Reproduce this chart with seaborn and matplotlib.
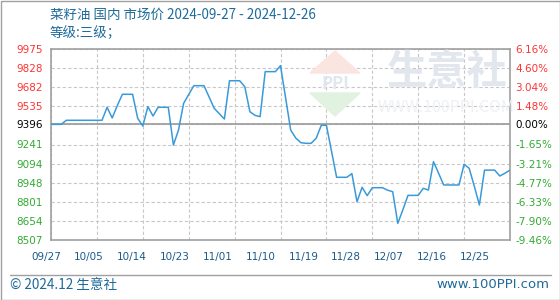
import numpy as np
import pandas as pd
import matplotlib
matplotlib.use("Agg")
import matplotlib.pyplot as plt
import matplotlib.transforms as mtransforms
from matplotlib.patches import Polygon
import seaborn as sns

sns.set_theme(style="white")
plt.rcParams['font.family'] = ['Noto Sans CJK SC', 'DejaVu Sans']

title = "菜籽油 国内 市场价 2024-09-27 - 2024-12-26"
subtitle = "等级:三级；"
base_price = 9396
y_ticks = [9975, 9828, 9682, 9535, 9396, 9241, 9094, 8948, 8801, 8654, 8507]
x_labels = ["09/27", "10/05", "10/14", "10/23", "11/01", "11/10",
            "11/19", "11/28", "12/07", "12/16", "12/25"]
prices = [9396, 9396, 9396, 9427, 9427, 9427, 9427, 9427, 9427, 9427, 9427,
          9527, 9445, 9540, 9627, 9627, 9627, 9442, 9383, 9532, 9460,
          9527, 9527, 9527, 9237, 9352, 9557, 9625, 9693, 9693, 9693,
          9606, 9519, 9478, 9437, 9731, 9731, 9731, 9685, 9493, 9465,
          9455, 9801, 9801, 9801, 9847, 9600, 9352, 9290, 9255, 9250,
          9250, 9289, 9389, 9389, 9190, 8989, 8989, 8989, 9017, 8801,
          8912, 8848, 8909, 8909, 8909, 8890, 8878, 8635, 8740, 8850,
          8850, 8850, 8904, 8891, 9109, 9020, 8930, 8930, 8930, 8930,
          9089, 9058, 8920, 8776, 9044, 9044, 9044, 8999, 9020, 9044]
dates = pd.date_range("2024-09-27", "2024-12-26", freq="D")

df = pd.DataFrame({"day": np.arange(len(prices)), "price": prices, "date": dates})

W, H = 560, 300
fig = plt.figure(figsize=(W / 100, H / 100), dpi=100)
L, R, T, B = 51, 510, 49, 240
ax = fig.add_axes([L / W, 1 - B / H, (R - L) / W, (B - T) / H])

red = "#ff3333"
green = "#33aa33"
line_c = "#3a9ad9"
grid_c = "#c8c8c8"
frame_c = "#a0a0a0"
text_c = "#1e6a9a"

# watermark
wm_c = "#e2e7ee"
fig.text(447 / W, 1 - 72 / H, "生意社", fontsize=29, color=wm_c, ha="center",
         va="center", fontweight="bold", zorder=0)
fig.text(446 / W, 1 - 107 / H, "WWW.100PPI.COM", fontsize=11.5, color="#eef0f4",
         ha="center", va="center", zorder=0)
tri1 = Polygon([[310 / W, 1 - 73 / H], [360 / W, 1 - 73 / H], [335 / W, 1 - 51 / H]],
               closed=True, transform=fig.transFigure, color="#fbe5e1", zorder=0)
tri2 = Polygon([[310 / W, 1 - 93 / H], [360 / W, 1 - 93 / H], [335 / W, 1 - 116 / H]],
               closed=True, transform=fig.transFigure, color="#e1f2e1", zorder=0)
fig.patches.extend([tri1, tri2])
fig.text(335 / W, 1 - 84 / H, "PPI", fontsize=12, color="#e2e7ef", ha="center",
         va="center", fontweight="bold", zorder=0)
ax.patch.set_alpha(0)

sns.lineplot(data=df, x="day", y="price", ax=ax, color=line_c, linewidth=1.1, zorder=3)

ax.set_xlim(0, len(prices) - 1)
ax.set_ylim(y_ticks[-1], y_ticks[0])
ax.set_yticks(y_ticks)
ax.set_yticklabels([str(v) for v in y_ticks])
for lab, v in zip(ax.get_yticklabels(), y_ticks):
    lab.set_color(red if v > base_price else ("black" if v == base_price else green))
    lab.set_fontfamily("DejaVu Sans")
ax.tick_params(axis="y", length=0, labelsize=7.5, pad=6)

ax.set_xticks(np.arange(0, len(prices), 9))
ax.set_xticklabels([])
ax.tick_params(axis="x", length=0)
ax.grid(True, linestyle=(0, (3, 2)), color=grid_c, linewidth=0.8)
ax.axhline(base_price, color=frame_c, linewidth=1.3, zorder=2)
ax.set_xlabel("")
ax.set_ylabel("")
for s in ax.spines.values():
    s.set_color(frame_c)
    s.set_linewidth(1.2)

# x labels (evenly spaced, independent of grid)
trans = mtransforms.blended_transform_factory(ax.transData, fig.transFigure)
n = len(prices) - 1
px_per_day = (R - L) / n
for k, lab in enumerate(x_labels):
    px = 46 + 42.9 * k
    d = (px - L) / px_per_day
    ax.text(d, 1 - 257 / H, lab, transform=trans, ha="center", va="center",
            fontsize=7.5, color="#1a5a8a", family="DejaVu Sans", clip_on=False)

# right axis percent
ax2 = ax.twinx()
pct = lambda v: (v - base_price) / base_price * 100
ax2.set_ylim(pct(y_ticks[-1]), pct(y_ticks[0]))
ax2.set_yticks([pct(v) for v in y_ticks])
ax2.set_yticklabels([f"{pct(v):.2f}%" for v in y_ticks])
for lab, v in zip(ax2.get_yticklabels(), y_ticks):
    lab.set_color(red if v > base_price else ("black" if v == base_price else green))
    lab.set_fontfamily("DejaVu Sans")
ax2.tick_params(axis="y", length=0, labelsize=7.5, pad=4)
ax2.grid(False)
for s in ax2.spines.values():
    s.set_visible(False)

# titles
fig.text(50 / W, 1 - 15 / H, title, fontsize=9.7, color=text_c, ha="left", va="center")
fig.text(50 / W, 1 - 33 / H, subtitle, fontsize=9.7, color=text_c, ha="left", va="center")

# footer
fig.add_artist(plt.Line2D([10 / W, 551 / W], [1 - 275 / H, 1 - 275 / H],
                          transform=fig.transFigure, color=frame_c, linewidth=1))
fig.text(10 / W, 1 - 285 / H, "© 2024.12 生意社", fontsize=9.8, color=text_c,
         ha="left", va="center")
fig.text(549 / W, 1 - 285 / H, "www.100PPI.com", fontsize=9.5, color=text_c,
         ha="right", va="center", family="DejaVu Sans")
# outer border
fig.add_artist(plt.Rectangle((0.5 / W, 0.5 / H), 1 - 1 / W, 1 - 1 / H, fill=False,
                             transform=fig.transFigure, edgecolor=frame_c, linewidth=1))

fig.savefig("out.png", dpi=100)
